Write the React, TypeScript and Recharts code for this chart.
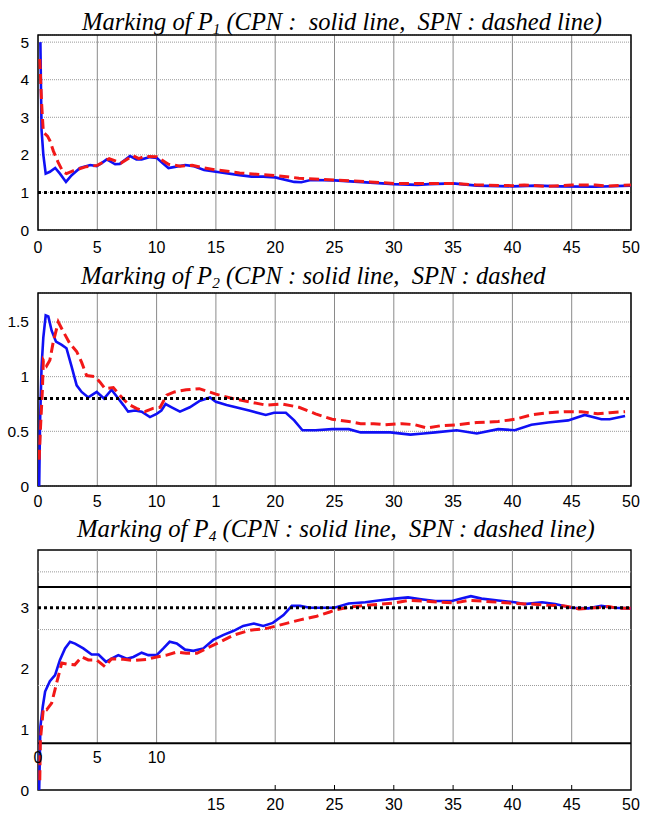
import React from 'react';
import { LineChart, Line, XAxis, YAxis, CartesianGrid, ReferenceLine, ReferenceArea } from 'recharts';

// ---------- data ----------
const X_TICKS = [0, 5, 10, 15, 20, 25, 30, 35, 40, 45, 50];

const P1_CPN_T = [0.2,0.3,0.45,0.65,1.0,1.45,1.85,2.36,2.84,3.54,4.4,4.95,5.37,5.8,6.5,6.9,7.76,8.3,8.74,9.44,10,10.57,11,11.55,12.4,13.1,14,15,17,18,19,20,21.6,22.2,23,25,27,30,32,33,35,37,40,42,44,47,50];
const P1_CPN_V = [5.0,2.66,2.0,1.5,1.55,1.65,1.5,1.28,1.46,1.65,1.73,1.70,1.78,1.88,1.75,1.76,1.97,1.88,1.88,1.94,1.92,1.76,1.65,1.68,1.73,1.70,1.6,1.55,1.46,1.42,1.42,1.40,1.28,1.27,1.33,1.32,1.28,1.22,1.20,1.22,1.24,1.18,1.16,1.18,1.16,1.15,1.18];
const P1_SPN_T = [0.15,0.3,0.45,0.8,1.0,1.3,1.7,2.1,2.4,3,4,5,6,7,8,8.5,9,10,11,12,13,14,15,17,19,20,22,25,28,30,33,35,37,40,41,43,45,47,48,50];
const P1_SPN_V = [4.55,3.4,2.6,2.5,2.38,2.1,1.8,1.55,1.5,1.58,1.68,1.72,1.9,1.78,1.98,1.9,1.96,1.95,1.75,1.7,1.72,1.65,1.6,1.52,1.47,1.45,1.38,1.33,1.28,1.24,1.24,1.24,1.2,1.18,1.2,1.16,1.2,1.2,1.17,1.2];
const P1_Y_TICKS = [0, 1, 2, 3, 4, 5];
const P1_TARGET = 1;

const P2_CPN_T = [0.1,0.17,0.3,0.45,0.65,0.87,1.15,1.52,2.0,2.4,2.84,3.26,3.68,4.24,4.95,5.57,6.2,6.77,7.2,7.6,8.18,8.74,9.44,10,10.4,10.76,11.27,11.97,12.8,13.66,14.5,15,15.9,17.8,19.2,19.9,20.9,21.6,22.3,23.4,24.8,26.2,27.2,28.3,29.7,31.4,32.5,33.5,35.3,37,38.8,40.2,41.6,43,44.7,46.1,47.5,48.2,49.5];
const P2_CPN_V = [0,0.57,1.09,1.36,1.56,1.55,1.42,1.32,1.29,1.26,1.09,0.92,0.86,0.81,0.86,0.80,0.88,0.80,0.74,0.68,0.69,0.68,0.63,0.66,0.69,0.75,0.72,0.68,0.72,0.78,0.81,0.77,0.74,0.69,0.65,0.67,0.67,0.60,0.51,0.51,0.52,0.52,0.49,0.49,0.49,0.47,0.48,0.49,0.51,0.48,0.52,0.51,0.56,0.58,0.60,0.65,0.61,0.61,0.64];
const P2_SPN_T = [0.1,0.2,0.37,0.45,0.73,1.0,1.29,1.71,2.14,2.7,3.26,3.68,4.1,4.8,5.23,5.65,6.35,6.9,7.6,8.3,9.0,9.7,10.3,10.85,11.5,12.5,13.6,15,16.4,17.8,19.2,20.6,22,23.4,24.8,26.2,27.2,28.3,29.3,30.7,31.8,32.8,33.9,35.3,37,38.8,40.2,41.6,43,44.4,45.8,47.2,48.2,49.5];
const P2_SPN_V = [0.24,0.51,0.88,1.15,1.10,1.15,1.32,1.50,1.41,1.30,1.23,1.13,1.01,1.0,0.95,0.89,0.90,0.83,0.75,0.71,0.68,0.71,0.72,0.83,0.86,0.88,0.89,0.84,0.80,0.77,0.74,0.75,0.72,0.66,0.61,0.59,0.57,0.57,0.56,0.57,0.56,0.53,0.55,0.56,0.58,0.59,0.61,0.65,0.67,0.68,0.68,0.66,0.67,0.68];
const P2_Y_TICKS = [0, 0.5, 1, 1.5];
const P2_X_LABELS = ['0', '5', '10', '1', '20', '25', '30', '35', '40', '45', '50'];
const P2_TARGET = 0.8;

const P3_CPN_T = [0.1,0.2,0.4,0.6,1.0,1.44,1.85,2.28,2.7,3.12,3.82,4.52,5.1,5.73,6.2,6.77,7.48,8.04,8.74,9.3,10,10.57,11.1,11.7,12.4,13.1,13.94,14.78,15.6,16.5,17.3,18.2,19,19.8,20.7,21.4,22.1,22.9,24.2,25,26.2,27.6,28.7,30.1,31.2,32.3,33.5,34.9,35.7,36.5,37.4,38.8,40.2,41,42.5,43.6,45,46.4,47.5,48.6,50];
const P3_CPN_V = [0,1.04,1.37,1.62,1.79,1.89,2.14,2.33,2.44,2.41,2.33,2.23,2.23,2.11,2.16,2.22,2.16,2.19,2.26,2.22,2.22,2.33,2.44,2.41,2.31,2.29,2.33,2.47,2.55,2.62,2.7,2.74,2.7,2.75,2.88,3.03,3.03,3.0,3.0,3.0,3.07,3.09,3.12,3.15,3.17,3.14,3.11,3.11,3.15,3.19,3.15,3.12,3.09,3.06,3.09,3.06,3.0,2.99,3.03,3.0,2.99];
const P3_SPN_T = [0.15,0.2,0.45,0.73,1.15,1.57,2.0,2.56,3.1,3.68,4.24,4.95,5.65,6.2,7.2,8.0,9.2,10,10.85,11.7,12.5,13.4,14.2,15.4,16.5,17.9,19.3,20.7,22.1,23.5,24.6,25,26.2,27.6,29,30.1,31.2,32.6,34,35.2,36.3,37.4,38.8,40.2,41.6,43,44.4,45.6,47,48.1,48.9,50];
const P3_SPN_V = [0.16,0.82,1.34,1.32,1.43,1.76,2.09,2.07,2.06,2.19,2.14,2.14,2.03,2.16,2.15,2.13,2.15,2.19,2.22,2.27,2.25,2.25,2.33,2.44,2.55,2.63,2.66,2.73,2.8,2.86,2.93,2.96,3.01,3.04,3.06,3.08,3.12,3.11,3.09,3.08,3.12,3.11,3.09,3.07,3.06,3.04,3.03,2.98,3.0,3.02,2.99,2.99];
const P3_Y_TICKS = [0, 1, 2, 3];
const P3_TARGET = 3;
// glitched overlay lines seen in the third panel (value units)
const P3_THIN_LINES = [3.59, 2.64, 1.72];
const P3_THICK_LINES = [3.34, 0.77];
const P3_VGRID = [5, 10, 15, 20, 25, 30, 35, 40, 45];

// ---------- helpers ----------
const zip = (ts: number[], vs: number[]) => ts.map((t, i) => ({ t, v: vs[i] }));

const W = 655;
const H = 814;
const PLOT_LEFT = 38;
const PLOT_RIGHT = 631;
const XH = 24;

const BLUE = '#1010f5';
const RED = '#f21818';
const SANS = "'Liberation Sans', Arial, sans-serif";
const SERIF = "'Liberation Serif', 'Times New Roman', serif";

const tickStyle = { fontSize: 16, fill: '#000', fontFamily: SANS };
const yTickStyle = { fontSize: 15.5, fill: '#000', fontFamily: SANS };

const chartStyle: React.CSSProperties = { position: 'absolute', left: 0, top: 0 };

function Title({ sub, rest, left, top, size }: { sub: string; rest: string; left: number; top: number; size: number }) {
  return (
    <div
      style={{
        position: 'absolute',
        left,
        top,
        fontFamily: SERIF,
        fontStyle: 'italic',
        fontSize: size,
        lineHeight: `${size}px`,
        whiteSpace: 'pre',
        color: '#000',
      }}
    >
      Marking of P<span style={{ fontSize: '0.62em', position: 'relative', top: '0.3em' }}>{sub}</span>
      {rest}
    </div>
  );
}

function P3Tick(props: any) {
  const { x, y, payload } = props;
  const v = payload.value;
  const up = v <= 10;
  return (
    <g>
      {v >= 20 && v < 50 && <line x1={x} x2={x} y1={y - 9} y2={y - 14} stroke="#000" strokeWidth={1} />}
      <text x={x} y={up ? y - 47 : y} dy="0.71em" textAnchor="middle" fontSize={16} fontFamily={SANS} fill="#000">
        {v}
      </text>
    </g>
  );
}

function Panel({
  top,
  bottom,
  yMax,
  yTicks,
  cpn,
  spn,
  target,
  xLabels,
  xTickMargin,
  grid,
  children,
  customTick,
}: any) {
  return (
    <LineChart
      width={W}
      height={H}
      style={chartStyle}
      margin={{ top, right: W - PLOT_RIGHT, bottom: H - bottom - XH, left: 0 }}
    >
      {grid && <CartesianGrid horizontal={false} vertical stroke="#8a8a8a" strokeWidth={1} />}
      {grid && <CartesianGrid horizontal vertical={false} stroke="#9a9a9a" strokeWidth={1} strokeDasharray="1 1" />}
      <XAxis
        type="number"
        dataKey="t"
        domain={[0, 50]}
        ticks={X_TICKS}
        allowDataOverflow
        height={XH}
        axisLine={false}
        tickLine={false}
        tickSize={0}
        tickMargin={xTickMargin}
        interval={0}
        tick={customTick ? <P3Tick /> : tickStyle}
        tickFormatter={(v: number) => (xLabels ? xLabels[X_TICKS.indexOf(v)] : String(v))}
      />
      <YAxis
        type="number"
        domain={[0, yMax]}
        ticks={yTicks}
        allowDataOverflow
        width={PLOT_LEFT}
        axisLine={false}
        tickLine={false}
        tickSize={0}
        tickMargin={9}
        interval={0}
        tick={yTickStyle}
      />
      {children}
      <ReferenceArea x1={0} x2={50} y1={0} y2={yMax} fill="none" fillOpacity={0} stroke="#000" strokeWidth={1.4} />
      <Line
        data={zip(cpn[0], cpn[1])}
        dataKey="v"
        type="linear"
        stroke={BLUE}
        strokeWidth={2.6}
        dot={false}
        isAnimationActive={false}
      />
      <Line
        data={zip(spn[0], spn[1])}
        dataKey="v"
        type="linear"
        stroke={RED}
        strokeWidth={3}
        strokeDasharray="10 5"
        dot={false}
        isAnimationActive={false}
      />
      <ReferenceLine y={target} stroke="#000" strokeWidth={3} strokeDasharray="3 3" />
    </LineChart>
  );
}

export default function App() {
  return (
    <div style={{ position: 'absolute', left: 0, top: 0, width: W, height: H, background: '#fff', overflow: 'hidden' }}>
      <Title sub="1" rest=" (CPN :  solid line,  SPN : dashed line)" left={82} top={9.5} size={24.5} />
      <Title sub="2" rest=" (CPN : solid line,  SPN : dashed" left={81} top={263.5} size={24.6} />
      <Title sub="4" rest=" (CPN : solid line,  SPN : dashed line)" left={77} top={516.5} size={24.7} />

      <Panel
        top={35}
        bottom={230}
        yMax={5.19}
        yTicks={P1_Y_TICKS}
        cpn={[P1_CPN_T, P1_CPN_V]}
        spn={[P1_SPN_T, P1_SPN_V]}
        target={P1_TARGET}
        xTickMargin={12}
        grid
      />
      <Panel
        top={293}
        bottom={486}
        yMax={1.765}
        yTicks={P2_Y_TICKS}
        cpn={[P2_CPN_T, P2_CPN_V]}
        spn={[P2_SPN_T, P2_SPN_V]}
        target={P2_TARGET}
        xLabels={P2_X_LABELS}
        xTickMargin={10}
        grid
      />
      <Panel
        top={550}
        bottom={790}
        yMax={3.95}
        yTicks={P3_Y_TICKS}
        cpn={[P3_CPN_T, P3_CPN_V]}
        spn={[P3_SPN_T, P3_SPN_V]}
        target={P3_TARGET}
        xTickMargin={9}
        customTick
      >
        {P3_VGRID.map((x) => (
          <ReferenceLine key={`v${x}`} segment={[{ x, y: 0.77 }, { x, y: 3.95 }]} stroke="#8a8a8a" strokeWidth={1} />
        ))}
        {P3_THIN_LINES.map((y) => (
          <ReferenceLine key={`h${y}`} y={y} stroke="#9a9a9a" strokeWidth={1} strokeDasharray="1 1" />
        ))}
        {P3_THICK_LINES.map((y) => (
          <ReferenceLine key={`k${y}`} y={y} stroke="#000" strokeWidth={2} />
        ))}
      </Panel>
    </div>
  );
}
